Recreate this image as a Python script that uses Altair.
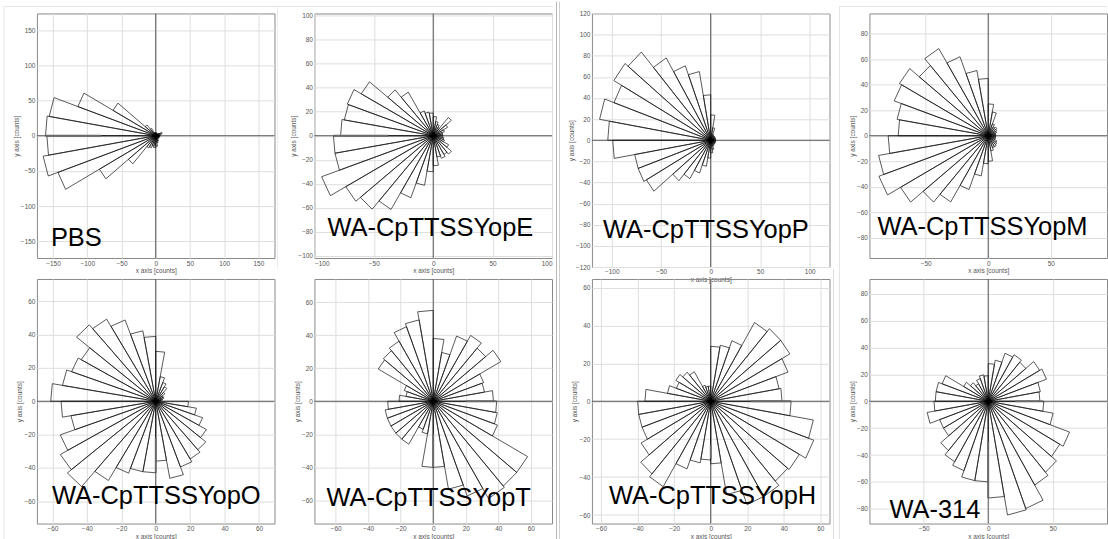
import altair as alt
import pandas as pd

# ---------------- data ----------------
LABELS = ["PBS", "WA-CpTTSSYopE", "WA-CpTTSSYopP", "WA-CpTTSSYopM",
          "WA-CpTTSSYopO", "WA-CpTTSSYopT", "WA-CpTTSSYopH", "WA-314"]

BIN_WIDTH_DEG = 10  # 36 direction bins, counter-clockwise from +x

R_PBS = [6, 8, 10, 6, 4, 3, 3, 3, 4, 3, 4, 5, 12, 20, 72, 121, 158, 161,
         159, 167, 152, 95, 52, 20, 18, 15, 17, 15, 10, 8, 6, 5, 5, 5, 6, 6]
R_E = [8, 8, 10, 14, 20, 8, 10, 12, 16, 19, 20, 22, 42, 50, 70, 77, 76, 78,
       84, 84, 100, 85, 80, 71, 55, 42, 30, 25, 18, 20, 18, 20, 15, 10, 9, 8]
R_P = [5, 5, 5, 5, 5, 5, 6, 12, 24, 43, 66, 75, 90, 109, 113, 104, 114, 104,
       99, 78, 78, 75, 50, 42, 33, 25, 17, 12, 9, 6, 5, 5, 5, 5, 5, 5]
R_M = [6, 6, 7, 8, 9, 8, 10, 19, 25, 45, 52, 66, 79, 72, 82, 80, 74, 72,
       80, 89, 93, 81, 68, 60, 45, 32, 22, 20, 12, 10, 10, 9, 8, 6, 6, 6]
R_O = [3, 4, 5, 5, 7, 10, 12, 15, 30, 39, 43, 52, 57, 60, 50, 52, 55, 61,
       55, 50, 59, 64, 67, 55, 46, 43, 43, 36, 47, 42, 40, 38, 34, 29, 24, 19]
R_T = [37, 32, 33, 48, 42, 46, 42, 30, 38, 55, 50, 48, 42, 40, 39, 19, 17, 21,
       28, 30, 30, 30, 30, 30, 18, 20, 40, 40, 54, 61, 68, 67, 67, 42, 40, 39]
R_H = [39, 38, 45, 50, 50, 48, 34, 30, 29, 8, 8, 9, 18, 20, 22, 20, 24, 36,
       40, 40, 40, 44, 50, 52, 38, 33, 31, 33, 50, 58, 58, 55, 56, 60, 57, 44]
R_314 = [40, 41, 48, 46, 38, 40, 38, 31, 28, 19, 20, 18, 15, 18, 22, 38, 41, 41,
         42, 48, 40, 40, 48, 52, 55, 60, 60, 72, 86, 85, 72, 69, 64, 67, 51, 43]

RADII = [R_PBS, R_E, R_P, R_M, R_O, R_T, R_H, R_314]

# darker overlapping edge segments lying on the axes
SEG_PANEL = [0, 1, 4, 5, 5, 6, 6, 7, 7]
SEG_AXIS = ["x", "x", "y", "y", "x", "x", "y", "x", "y"]
SEG_FROM = [-161, -84, -22, -20, 20, 22, -23, 21, -30]
SEG_TO = [-80, -38, -43, -40, 39, 44, -30, 42, -72]

X_TICKS = [
    [-150, -100, -50, 0, 50, 100, 150],
    [-100, -50, 0, 50, 100],
    [-100, -50, 0, 50, 100],
    [-50, 0, 50],
    [-60, -40, -20, 0, 20, 40, 60],
    [-60, -40, -20, 0, 20, 40, 60],
    [-60, -40, -20, 0, 20, 40, 60],
    [-50, 0, 50],
]
Y_TICKS = [
    [-150, -100, -50, 0, 50, 100, 150],
    list(range(-100, 101, 20)),
    list(range(-120, 121, 20)),
    list(range(-80, 81, 20)),
    list(range(-60, 61, 20)),
    list(range(-60, 61, 20)),
    list(range(-60, 61, 20)),
    list(range(-80, 81, 20)),
]
X_DOMAIN = [(-173.5, 173.5), (-100, 100), (-120, 120), (-95, 95),
            (-69, 69), (-73, 73), (-65, 65), (-92, 92)]
Y_DOMAIN = [(-173.5, 173.5), (-102, 102), (-120, 120), (-96, 96),
            (-73.5, 73.5), (-74, 74), (-64.5, 64.5), (-91, 91)]

# ---------------- layout / style ----------------
PANEL_W = 238
PANEL_H = [245, 245, 254, 245, 245, 245, 245, 245]
LABEL_POS = [(14, 233), (13, 223), (11, 225), (8, 222),
             (15, 225), (12, 227), (17, 225), (20, 239)]
FONT = "Liberation Sans"


def deco_rule(x1, y1, x2, y2, color, width=1.0):
    # page-pixel decoration, relative to the first panel's plot origin (36, 12)
    return alt.Chart(pd.DataFrame({"k": [0]})).mark_rule(
        color=color, strokeWidth=width
    ).encode(
        x=alt.value(x1 - 36), x2=alt.value(x2 - 36),
        y=alt.value(y1 - 12), y2=alt.value(y2 - 12),
    )


def panel(i):
    radii = RADII[i]
    bins = pd.DataFrame({"bin": list(range(len(radii))), "r": radii})
    verts = pd.DataFrame({"v": [0, 1, 2, 3]})
    d = bins.merge(verts, how="cross")

    xs = alt.Scale(domain=list(X_DOMAIN[i]), nice=False, zero=False)
    ys = alt.Scale(domain=list(Y_DOMAIN[i]), nice=False, zero=False)
    xax = alt.Axis(values=X_TICKS[i], title="x axis [counts]")
    yax = alt.Axis(values=Y_TICKS[i], title="y axis [counts]")

    wedges = alt.Chart(d).transform_calculate(
        rr="(datum.v == 1 || datum.v == 2) ? datum.r : 0",
        th="(datum.bin * %d + (datum.v == 2 ? %d : 0)) * PI / 180" % (BIN_WIDTH_DEG, BIN_WIDTH_DEG),
    ).transform_calculate(
        px="datum.rr * cos(datum.th)",
        py="datum.rr * sin(datum.th)",
    ).mark_line(color="#111111", strokeWidth=0.7, interpolate="linear").encode(
        x=alt.X("px:Q", scale=xs, axis=xax),
        y=alt.Y("py:Q", scale=ys, axis=yax),
        detail="bin:N",
        order="v:Q",
    )

    zero = pd.DataFrame({"z": [0]})
    vline = alt.Chart(zero).mark_rule(color="#555555", strokeWidth=1).encode(
        x=alt.X("z:Q", scale=xs, axis=xax))
    hline = alt.Chart(zero).mark_rule(color="#555555", strokeWidth=1).encode(
        y=alt.Y("z:Q", scale=ys, axis=yax))

    layers = [vline, hline, wedges]

    for p, ax, a, b in zip(SEG_PANEL, SEG_AXIS, SEG_FROM, SEG_TO):
        if p != i:
            continue
        sd = pd.DataFrame({"a": [a], "b": [b], "z": [0]})
        if ax == "x":
            enc = dict(x=alt.X("a:Q", scale=xs, axis=xax), x2="b:Q",
                       y=alt.Y("z:Q", scale=ys, axis=yax))
        else:
            enc = dict(y=alt.Y("a:Q", scale=ys, axis=yax), y2="b:Q",
                       x=alt.X("z:Q", scale=xs, axis=xax))
        layers.append(alt.Chart(sd).mark_rule(color="#6a6a6a", strokeWidth=1.8).encode(**enc))

    center = alt.Chart(pd.DataFrame({"cx": [0], "cy": [0]})).mark_point(
        shape="cross", filled=True, color="black", size=45, opacity=1
    ).encode(x=alt.X("cx:Q", scale=xs, axis=xax), y=alt.Y("cy:Q", scale=ys, axis=yax))

    tx, ty = LABEL_POS[i]
    label = alt.Chart(pd.DataFrame({"t": [LABELS[i]]})).mark_text(
        align="left", baseline="alphabetic", fontSize=25.5, font=FONT, color="black"
    ).encode(x=alt.value(tx), y=alt.value(ty), text="t:N")

    layers += [center, label]
    if i == 0:
        layers += [
            deco_rule(0, 0, 1, 539, "white"),                 # layout anchor
            deco_rule(3, 5, 3, 539, "#e4e4e4"),
            deco_rule(3, 5, 553, 5, "#e4e4e4"),
            deco_rule(840, 5, 1108, 5, "#e4e4e4"),
            deco_rule(277, 5, 277, 268, "#ececec"),
            deco_rule(556.5, 0, 556.5, 539, "#b8b8b8"),
            deco_rule(559.5, 0, 559.5, 539, "#cfcfcf"),
            deco_rule(834, 268, 834, 539, "#dddddd"),
            deco_rule(840, 5, 840, 539, "#e4e4e4"),
        ]
    return alt.layer(*layers).properties(width=PANEL_W, height=PANEL_H[i])


chart = alt.concat(
    *[panel(i) for i in range(8)],
    columns=4,
    spacing={"row": 12, "column": 40},
    bounds="flush",
).properties(
    padding=0,
    background="white",
).configure_view(
    stroke="#8a8a8a", strokeWidth=1
).configure_axis(
    grid=True, gridColor="#dedede", gridWidth=1,
    domain=False, ticks=False,
    labelFont=FONT, labelFontSize=6.5, labelColor="#555555", labelPadding=2,
    titleFont=FONT, titleFontSize=6.5, titleColor="#555555",
    titleFontWeight="normal", titlePadding=1,
)

chart.save("out.html", embed_options={"renderer": "svg", "actions": False})
